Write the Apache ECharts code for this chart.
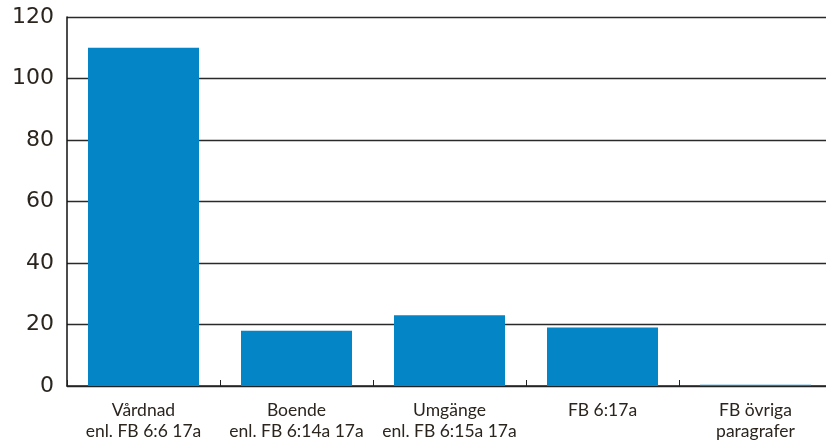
<!DOCTYPE html>
<html>
<head>
<meta charset="utf-8">
<script src="https://cdn.jsdelivr.net/npm/echarts@6/dist/echarts.min.js"></script>
<style>
  html, body { margin: 0; padding: 0; background: #fff; }
  #chart { width: 826px; height: 441px; }
</style>
</head>
<body>
<div id="chart"></div>
<script>
var categories = [
  "Vårdnad\nenl. FB 6:6 17a",
  "Boende\nenl. FB 6:14a 17a",
  "Umgänge\nenl. FB 6:15a 17a",
  "FB 6:17a",
  "FB övriga\nparagrafer"
];
var values = [110, 18, 23, 19, 0.4];
var yTicks = { min: 0, max: 120, interval: 20 };

var chart = echarts.init(document.getElementById("chart"));
var option = {
  animation: false,
  grid: {
    left: 67,
    width: 765,
    top: 17,
    bottom: 55,
    outerBoundsMode: "none"
  },
  xAxis: {
    type: "category",
    data: categories,
    axisLine: { lineStyle: { color: "#222", width: 1.5 } },
    axisTick: { show: true, inside: true, length: 6, lineStyle: { color: "#222" } },
    axisLabel: {
      color: "#2b251e",
      fontFamily: "Lato",
      fontSize: 17.5,
      lineHeight: 21,
      margin: 14,
      interval: 0
    }
  },
  yAxis: {
    type: "value",
    min: yTicks.min,
    max: yTicks.max,
    interval: yTicks.interval,
    axisLine: { show: true, lineStyle: { color: "#111", width: 1.5 } },
    axisTick: { show: false },
    axisLabel: {
      color: "#2b251e",
      fontFamily: "DejaVu Sans",
      fontSize: 22,
      margin: 13
    },
    splitLine: { lineStyle: { color: "#2a2a2a", width: 1.3 } }
  },
  series: [
    {
      type: "bar",
      data: values,
      barWidth: 111,
      itemStyle: { color: "#0485c5" }
    }
  ]
};
chart.setOption(option);
</script>
</body>
</html>
